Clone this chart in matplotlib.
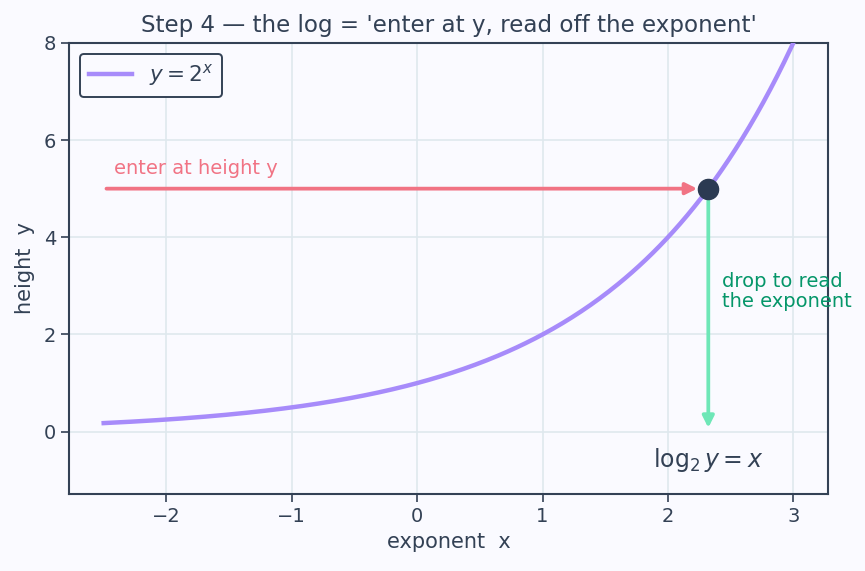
import numpy as np
import matplotlib
matplotlib.use("Agg")
import matplotlib.pyplot as plt

# curve definition: y = base ** x over the shown exponent range
base = 2
x_start, x_end = -2.5, 3.0
n_pts = 300

# the worked example: enter at height y
y_enter = 5
x_read = np.log(y_enter) / np.log(base)

# colours
bg = '#fafaff'
ink = '#334155'
purple = '#a78bfa'
red = '#f17384'
green_line = '#6ee7b7'
green_text = '#059669'
dot = '#2b3a52'

plt.rcParams['font.family'] = ['DejaVu Sans']

fig, ax = plt.subplots(figsize=(8.65, 5.71), dpi=100)
fig.patch.set_facecolor(bg)
ax.set_facecolor(bg)

xs = np.linspace(x_start, x_end, n_pts)
ax.plot(xs, base ** xs, color=purple, linewidth=3.2, label=r'$y = 2^x$', zorder=3)

# horizontal arrow: enter at height y
ax.annotate('', xy=(x_read, y_enter), xytext=(x_start, y_enter),
            arrowprops=dict(arrowstyle='-|>', color=red, lw=2.7,
                            shrinkA=2, shrinkB=8, mutation_scale=17), zorder=4)
ax.text(x_start + 0.08, y_enter + 0.22, 'enter at height y', color=red,
        fontsize=14, ha='left', va='bottom')

# vertical arrow: drop to read the exponent
ax.annotate('', xy=(x_read, 0.08), xytext=(x_read, y_enter),
            arrowprops=dict(arrowstyle='-|>', color=green_line, lw=2.7,
                            shrinkA=7, shrinkB=0, mutation_scale=17), zorder=4)
ax.text(x_read + 0.11, 2.88, 'drop to read\nthe exponent', color=green_text,
        fontsize=14, ha='left', va='center', linespacing=1.05)

ax.plot([x_read], [y_enter], 'o', color=dot, markersize=14.5, zorder=5)

ax.text(x_read, -0.58, r'$\log_2 y = x$', color=ink, fontsize=17,
        ha='center', va='center')

ax.set_xlim(-2.775, 3.275)
ax.set_ylim(-1.28, 8)
ax.set_xticks([-2, -1, 0, 1, 2, 3])
ax.set_yticks([0, 2, 4, 6, 8])

ax.grid(True, color='#dfe8ee', linewidth=1.2)
ax.set_axisbelow(True)
for s in ax.spines.values():
    s.set_color(ink)
    s.set_linewidth(1.5)
ax.tick_params(colors=ink, labelsize=14, length=6, width=1.2)

ax.set_title("Step 4 \u2014 the log = 'enter at y, read off the exponent'",
             color=ink, fontsize=16.6, pad=8)
ax.set_xlabel('exponent  x', color=ink, fontsize=15)
ax.set_ylabel('height  y', color=ink, fontsize=15, labelpad=6)

leg = ax.legend(loc='upper left', fontsize=15.5, framealpha=1, facecolor=bg,
                edgecolor=ink, fancybox=True)
leg.get_frame().set_linewidth(1.4)
for t in leg.get_texts():
    t.set_color(ink)

fig.subplots_adjust(left=0.08, right=0.957, top=0.925, bottom=0.135)
fig.savefig('out.png', dpi=100, facecolor=bg)
